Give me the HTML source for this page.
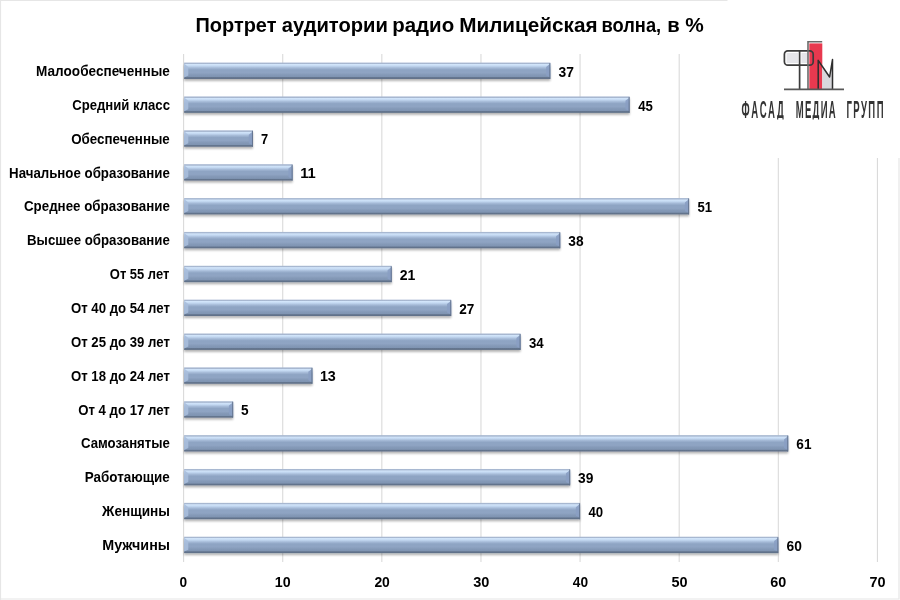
<!DOCTYPE html>
<html lang="ru"><head><meta charset="utf-8"><title>Портрет аудитории радио Милицейская волна</title>
<style>
html,body{margin:0;padding:0;background:#fff;}
body{width:900px;height:600px;overflow:hidden;}
svg{display:block;will-change:transform;}
text{font-family:"Liberation Sans",sans-serif;fill:#000;}
.b{font-weight:bold;}
</style></head><body>
<svg width="900" height="600" viewBox="0 0 900 600">
<defs>
<linearGradient id="g" x1="0" y1="0" x2="0" y2="1">
<stop offset="0" stop-color="#a9b9d2"/>
<stop offset="0.07" stop-color="#a7b7d0"/>
<stop offset="0.11" stop-color="#d2e5fa"/>
<stop offset="0.20" stop-color="#c4d9f2"/>
<stop offset="0.32" stop-color="#a5bad7"/>
<stop offset="0.44" stop-color="#8ea4c3"/>
<stop offset="0.62" stop-color="#8fa4c3"/>
<stop offset="0.75" stop-color="#8499b7"/>
<stop offset="0.87" stop-color="#7f94b2"/>
<stop offset="0.91" stop-color="#65768f"/>
<stop offset="1" stop-color="#5e6e86"/>
</linearGradient>
<filter id="sh" x="-5%" y="-30%" width="110%" height="190%">
<feGaussianBlur in="SourceAlpha" stdDeviation="1.2"/>
<feOffset dx="0.3" dy="2.2"/>
<feComponentTransfer><feFuncA type="linear" slope="0.30"/></feComponentTransfer>
<feMerge><feMergeNode/><feMergeNode in="SourceGraphic"/></feMerge>
</filter>
</defs>
<rect width="900" height="600" fill="#fff"/>
<g fill="none" stroke="#e6e6e6" stroke-width="1.2"><path d="M0.5 600V0.5H900M0 599H899V0"/></g>
<g stroke="#dadada" stroke-width="1.1">
<line x1="183.60" y1="54.0" x2="183.60" y2="562.0"/>
<line x1="282.72" y1="54.0" x2="282.72" y2="562.0"/>
<line x1="381.84" y1="54.0" x2="381.84" y2="562.0"/>
<line x1="480.96" y1="54.0" x2="480.96" y2="562.0"/>
<line x1="580.08" y1="54.0" x2="580.08" y2="562.0"/>
<line x1="679.20" y1="54.0" x2="679.20" y2="562.0"/>
<line x1="778.32" y1="54.0" x2="778.32" y2="562.0"/>
<line x1="877.44" y1="54.0" x2="877.44" y2="562.0"/>
</g>
<rect x="727.5" y="0" width="172.5" height="158" fill="#fff"/>
<g id="bars">
<g filter="url(#sh)"><rect x="184.10" y="62.58" width="366.24" height="16.4" fill="url(#g)"/></g>
<path d="M184.10 63.58l4.2 3.36V75.50L184.10 77.48z" fill="#a8bedc" opacity="0.9"/>
<path d="M550.34 63.58l-4.2 3.36V75.50L550.34 77.48z" fill="#8a9ec3" opacity="0.9"/>
<rect x="549.34" y="63.08" width="1" height="15.899999999999999" fill="#5f6f88" opacity="0.85"/>
<g filter="url(#sh)"><rect x="184.10" y="96.45" width="445.54" height="16.4" fill="url(#g)"/></g>
<path d="M184.10 97.45l4.2 3.36V109.37L184.10 111.35z" fill="#a8bedc" opacity="0.9"/>
<path d="M629.64 97.45l-4.2 3.36V109.37L629.64 111.35z" fill="#8a9ec3" opacity="0.9"/>
<rect x="628.64" y="96.95" width="1" height="15.899999999999999" fill="#5f6f88" opacity="0.85"/>
<g filter="url(#sh)"><rect x="184.10" y="130.32" width="68.88" height="16.4" fill="url(#g)"/></g>
<path d="M184.10 131.32l4.2 3.36V143.24L184.10 145.22z" fill="#a8bedc" opacity="0.9"/>
<path d="M252.98 131.32l-4.2 3.36V143.24L252.98 145.22z" fill="#8a9ec3" opacity="0.9"/>
<rect x="251.98" y="130.82" width="1" height="15.899999999999999" fill="#5f6f88" opacity="0.85"/>
<g filter="url(#sh)"><rect x="184.10" y="164.18" width="108.53" height="16.4" fill="url(#g)"/></g>
<path d="M184.10 165.18l4.2 3.36V177.10L184.10 179.08z" fill="#a8bedc" opacity="0.9"/>
<path d="M292.63 165.18l-4.2 3.36V177.10L292.63 179.08z" fill="#8a9ec3" opacity="0.9"/>
<rect x="291.63" y="164.68" width="1" height="15.899999999999999" fill="#5f6f88" opacity="0.85"/>
<g filter="url(#sh)"><rect x="184.10" y="198.05" width="505.01" height="16.4" fill="url(#g)"/></g>
<path d="M184.10 199.05l4.2 3.36V210.97L184.10 212.95z" fill="#a8bedc" opacity="0.9"/>
<path d="M689.11 199.05l-4.2 3.36V210.97L689.11 212.95z" fill="#8a9ec3" opacity="0.9"/>
<rect x="688.11" y="198.55" width="1" height="15.899999999999999" fill="#5f6f88" opacity="0.85"/>
<g filter="url(#sh)"><rect x="184.10" y="231.92" width="376.16" height="16.4" fill="url(#g)"/></g>
<path d="M184.10 232.92l4.2 3.36V244.84L184.10 246.82z" fill="#a8bedc" opacity="0.9"/>
<path d="M560.26 232.92l-4.2 3.36V244.84L560.26 246.82z" fill="#8a9ec3" opacity="0.9"/>
<rect x="559.26" y="232.42" width="1" height="15.899999999999999" fill="#5f6f88" opacity="0.85"/>
<g filter="url(#sh)"><rect x="184.10" y="265.78" width="207.65" height="16.4" fill="url(#g)"/></g>
<path d="M184.10 266.78l4.2 3.36V278.70L184.10 280.68z" fill="#a8bedc" opacity="0.9"/>
<path d="M391.75 266.78l-4.2 3.36V278.70L391.75 280.68z" fill="#8a9ec3" opacity="0.9"/>
<rect x="390.75" y="266.28" width="1" height="15.899999999999999" fill="#5f6f88" opacity="0.85"/>
<g filter="url(#sh)"><rect x="184.10" y="299.65" width="267.12" height="16.4" fill="url(#g)"/></g>
<path d="M184.10 300.65l4.2 3.36V312.57L184.10 314.55z" fill="#a8bedc" opacity="0.9"/>
<path d="M451.22 300.65l-4.2 3.36V312.57L451.22 314.55z" fill="#8a9ec3" opacity="0.9"/>
<rect x="450.22" y="300.15" width="1" height="15.899999999999999" fill="#5f6f88" opacity="0.85"/>
<g filter="url(#sh)"><rect x="184.10" y="333.52" width="336.51" height="16.4" fill="url(#g)"/></g>
<path d="M184.10 334.52l4.2 3.36V346.44L184.10 348.42z" fill="#a8bedc" opacity="0.9"/>
<path d="M520.61 334.52l-4.2 3.36V346.44L520.61 348.42z" fill="#8a9ec3" opacity="0.9"/>
<rect x="519.61" y="334.02" width="1" height="15.899999999999999" fill="#5f6f88" opacity="0.85"/>
<g filter="url(#sh)"><rect x="184.10" y="367.38" width="128.36" height="16.4" fill="url(#g)"/></g>
<path d="M184.10 368.38l4.2 3.36V380.30L184.10 382.28z" fill="#a8bedc" opacity="0.9"/>
<path d="M312.46 368.38l-4.2 3.36V380.30L312.46 382.28z" fill="#8a9ec3" opacity="0.9"/>
<rect x="311.46" y="367.88" width="1" height="15.899999999999999" fill="#5f6f88" opacity="0.85"/>
<g filter="url(#sh)"><rect x="184.10" y="401.25" width="49.06" height="16.4" fill="url(#g)"/></g>
<path d="M184.10 402.25l4.2 3.36V414.17L184.10 416.15z" fill="#a8bedc" opacity="0.9"/>
<path d="M233.16 402.25l-4.2 3.36V414.17L233.16 416.15z" fill="#8a9ec3" opacity="0.9"/>
<rect x="232.16" y="401.75" width="1" height="15.899999999999999" fill="#5f6f88" opacity="0.85"/>
<g filter="url(#sh)"><rect x="184.10" y="435.12" width="604.13" height="16.4" fill="url(#g)"/></g>
<path d="M184.10 436.12l4.2 3.36V448.04L184.10 450.02z" fill="#a8bedc" opacity="0.9"/>
<path d="M788.23 436.12l-4.2 3.36V448.04L788.23 450.02z" fill="#8a9ec3" opacity="0.9"/>
<rect x="787.23" y="435.62" width="1" height="15.899999999999999" fill="#5f6f88" opacity="0.85"/>
<g filter="url(#sh)"><rect x="184.10" y="468.98" width="386.07" height="16.4" fill="url(#g)"/></g>
<path d="M184.10 469.98l4.2 3.36V481.90L184.10 483.88z" fill="#a8bedc" opacity="0.9"/>
<path d="M570.17 469.98l-4.2 3.36V481.90L570.17 483.88z" fill="#8a9ec3" opacity="0.9"/>
<rect x="569.17" y="469.48" width="1" height="15.899999999999999" fill="#5f6f88" opacity="0.85"/>
<g filter="url(#sh)"><rect x="184.10" y="502.85" width="395.98" height="16.4" fill="url(#g)"/></g>
<path d="M184.10 503.85l4.2 3.36V515.77L184.10 517.75z" fill="#a8bedc" opacity="0.9"/>
<path d="M580.08 503.85l-4.2 3.36V515.77L580.08 517.75z" fill="#8a9ec3" opacity="0.9"/>
<rect x="579.08" y="503.35" width="1" height="15.899999999999999" fill="#5f6f88" opacity="0.85"/>
<g filter="url(#sh)"><rect x="184.10" y="536.72" width="594.22" height="16.4" fill="url(#g)"/></g>
<path d="M184.10 537.72l4.2 3.36V549.64L184.10 551.62z" fill="#a8bedc" opacity="0.9"/>
<path d="M778.32 537.72l-4.2 3.36V549.64L778.32 551.62z" fill="#8a9ec3" opacity="0.9"/>
<rect x="777.32" y="537.22" width="1" height="15.899999999999999" fill="#5f6f88" opacity="0.85"/>
</g>
<g id="labels" class="b">
<text x="195.49" y="31.70" font-size="20.6" textLength="80.92" lengthAdjust="spacingAndGlyphs">Портрет</text>
<text x="281.73" y="31.70" font-size="20.6" textLength="106.17" lengthAdjust="spacingAndGlyphs">аудитории</text>
<text x="392.22" y="31.70" font-size="20.6" textLength="61.94" lengthAdjust="spacingAndGlyphs">радио</text>
<text x="459.20" y="31.70" font-size="20.6" textLength="138.35" lengthAdjust="spacingAndGlyphs">Милицейская</text>
<text x="601.55" y="31.70" font-size="20.6" textLength="59.62" lengthAdjust="spacingAndGlyphs">волна,</text>
<text x="667.21" y="31.70" font-size="20.6" textLength="12.44" lengthAdjust="spacingAndGlyphs">в</text>
<text x="685.20" y="31.70" font-size="20.6" textLength="18.53" lengthAdjust="spacingAndGlyphs">%</text>
<text x="36.12" y="75.93" font-size="13.9" textLength="133.68" lengthAdjust="spacingAndGlyphs">Малообеспеченные</text>
<text x="558.61" y="76.63" font-size="14.9" textLength="15.41" lengthAdjust="spacingAndGlyphs">37</text>
<text x="72.20" y="109.80" font-size="13.9" textLength="97.75" lengthAdjust="spacingAndGlyphs">Средний класс</text>
<text x="638.29" y="110.50" font-size="14.9" textLength="14.66" lengthAdjust="spacingAndGlyphs">45</text>
<text x="71.20" y="143.67" font-size="13.9" textLength="98.60" lengthAdjust="spacingAndGlyphs">Обеспеченные</text>
<text x="260.92" y="144.37" font-size="14.9" textLength="7.19" lengthAdjust="spacingAndGlyphs">7</text>
<text x="9.05" y="177.53" font-size="13.9" textLength="160.74" lengthAdjust="spacingAndGlyphs">Начальное образование</text>
<text x="300.14" y="178.23" font-size="14.9" textLength="15.59" lengthAdjust="spacingAndGlyphs">11</text>
<text x="23.96" y="211.40" font-size="13.9" textLength="145.88" lengthAdjust="spacingAndGlyphs">Среднее образование</text>
<text x="697.54" y="212.10" font-size="14.9" textLength="14.62" lengthAdjust="spacingAndGlyphs">51</text>
<text x="27.05" y="245.27" font-size="13.9" textLength="142.73" lengthAdjust="spacingAndGlyphs">Высшее образование</text>
<text x="568.30" y="245.97" font-size="14.9" textLength="15.28" lengthAdjust="spacingAndGlyphs">38</text>
<text x="109.85" y="279.13" font-size="13.9" textLength="59.46" lengthAdjust="spacingAndGlyphs">От 55 лет</text>
<text x="399.71" y="279.83" font-size="14.9" textLength="15.64" lengthAdjust="spacingAndGlyphs">21</text>
<text x="70.96" y="313.00" font-size="13.9" textLength="98.88" lengthAdjust="spacingAndGlyphs">От 40 до 54 лет</text>
<text x="459.32" y="313.70" font-size="14.9" textLength="15.11" lengthAdjust="spacingAndGlyphs">27</text>
<text x="70.96" y="346.87" font-size="13.9" textLength="98.88" lengthAdjust="spacingAndGlyphs">От 25 до 39 лет</text>
<text x="528.94" y="347.57" font-size="14.9" textLength="14.74" lengthAdjust="spacingAndGlyphs">34</text>
<text x="70.96" y="380.73" font-size="13.9" textLength="98.88" lengthAdjust="spacingAndGlyphs">От 18 до 24 лет</text>
<text x="319.89" y="381.43" font-size="14.9" textLength="15.96" lengthAdjust="spacingAndGlyphs">13</text>
<text x="78.20" y="414.60" font-size="13.9" textLength="91.60" lengthAdjust="spacingAndGlyphs">От 4 до 17 лет</text>
<text x="241.00" y="415.30" font-size="14.9" textLength="7.60" lengthAdjust="spacingAndGlyphs">5</text>
<text x="80.97" y="448.47" font-size="13.9" textLength="88.86" lengthAdjust="spacingAndGlyphs">Самозанятые</text>
<text x="796.36" y="449.17" font-size="14.9" textLength="15.11" lengthAdjust="spacingAndGlyphs">61</text>
<text x="84.79" y="482.33" font-size="13.9" textLength="85.01" lengthAdjust="spacingAndGlyphs">Работающие</text>
<text x="577.99" y="483.03" font-size="14.9" textLength="15.35" lengthAdjust="spacingAndGlyphs">39</text>
<text x="102.07" y="516.20" font-size="13.9" textLength="67.89" lengthAdjust="spacingAndGlyphs">Женщины</text>
<text x="588.49" y="516.90" font-size="14.9" textLength="14.67" lengthAdjust="spacingAndGlyphs">40</text>
<text x="102.25" y="550.07" font-size="13.9" textLength="67.73" lengthAdjust="spacingAndGlyphs">Мужчины</text>
<text x="786.59" y="550.77" font-size="14.9" textLength="15.31" lengthAdjust="spacingAndGlyphs">60</text>
<text x="179.48" y="587.00" font-size="14.9" textLength="7.61" lengthAdjust="spacingAndGlyphs">0</text>
<text x="274.80" y="587.00" font-size="14.9" textLength="15.85" lengthAdjust="spacingAndGlyphs">10</text>
<text x="374.38" y="587.00" font-size="14.9" textLength="15.46" lengthAdjust="spacingAndGlyphs">20</text>
<text x="473.16" y="587.00" font-size="14.9" textLength="16.17" lengthAdjust="spacingAndGlyphs">30</text>
<text x="572.75" y="587.00" font-size="14.9" textLength="15.29" lengthAdjust="spacingAndGlyphs">40</text>
<text x="671.47" y="587.00" font-size="14.9" textLength="16.09" lengthAdjust="spacingAndGlyphs">50</text>
<text x="770.30" y="587.00" font-size="14.9" textLength="16.00" lengthAdjust="spacingAndGlyphs">60</text>
<text x="869.58" y="587.00" font-size="14.9" textLength="16.10" lengthAdjust="spacingAndGlyphs">70</text>
</g>
<g id="logo">
<rect x="786.6" y="53" width="11.6" height="10" fill="#e5e5e9"/>
<rect x="801.4" y="53" width="6" height="10" fill="#e5e5e9"/>
<rect x="809.3" y="43.4" width="13" height="45.8" fill="#e8394f"/>
<path d="M822.3 64.5L829.6 77L832.5 62V89H822.3z" fill="#d8d8dc"/>
<g fill="none" stroke="#3c3c3c" stroke-width="1.7" stroke-linejoin="round">
<rect x="784.4" y="50.9" width="28.8" height="14.3" rx="3.4"/>
<path d="M799.6 50.9V89"/>
<path d="M818.2 89V60.3L829.6 77L832.5 59.5V89" stroke="#2e2e2e" stroke-width="1.5"/>
</g>
<path d="M808 89V41.8H822.2" fill="none" stroke="#6a6a6a" stroke-width="1.6"/>
<path d="M784 89.4H844" stroke="#585858" stroke-width="1.7"/>
<clipPath id="wc"><rect x="735" y="95" width="160" height="24.4"/></clipPath>
<g id="wordmark" clip-path="url(#wc)" font-size="23.8" font-weight="bold">
<text transform="translate(741.60 117.9) scale(0.4 1)" x="0" y="0" textLength="105.5" lengthAdjust="spacing" style="fill:#333">ФАСАД</text>
<text transform="translate(795.80 117.9) scale(0.4 1)" x="0" y="0" textLength="99.6" lengthAdjust="spacing" style="fill:#333">МЕДИА</text>
<text transform="translate(846.50 117.9) scale(0.4 1)" x="0" y="0" textLength="92.5" lengthAdjust="spacing" style="fill:#333">ГРУПП</text>
</g>
</g>

</svg></body></html>
